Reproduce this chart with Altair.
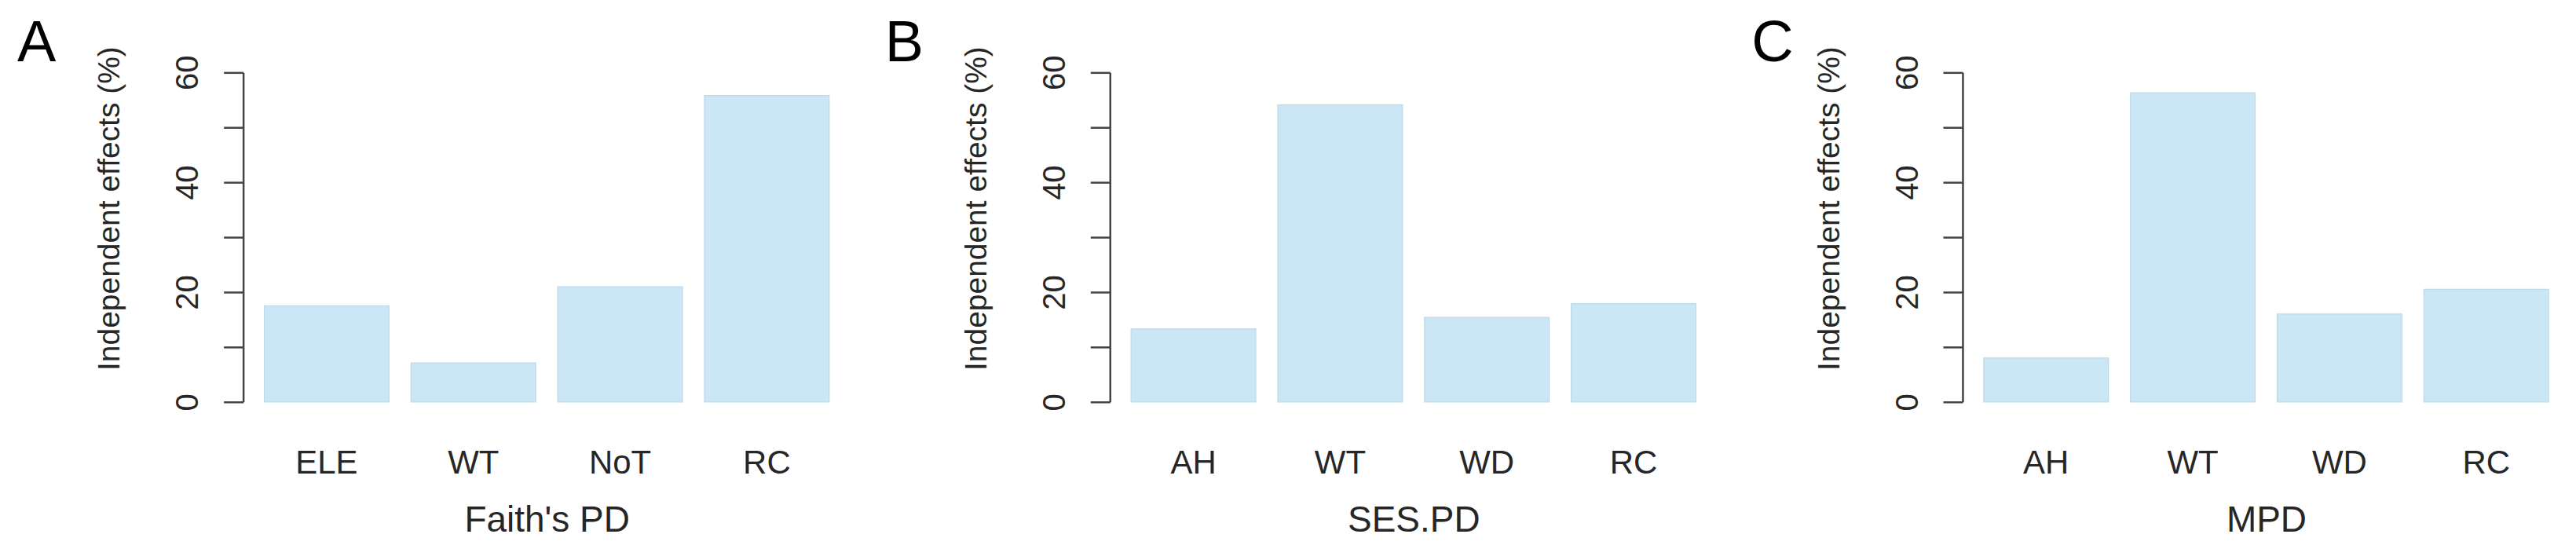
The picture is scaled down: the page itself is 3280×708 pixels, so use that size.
import altair as alt
import pandas as pd

# ---- data ----
letters = ["A", "B", "C"]
x_titles = ["Faith's PD", "SES.PD", "MPD"]
cats_a = ["ELE", "WT", "NoT", "RC"]
vals_a = [17.5, 7.1, 21.0, 55.8]
cats_b = ["AH", "WT", "WD", "RC"]
vals_b = [13.3, 54.1, 15.4, 17.9]
cats_c = ["AH", "WT", "WD", "RC"]
vals_c = [8.0, 56.3, 16.0, 20.5]
y_ticks = [0, 10, 20, 30, 40, 50, 60]
y_title = "Independent effects (%)"

FONT = "Liberation Sans"
BAR = "#cbe6f4"
AXC = "#444444"
TXT = "#262626"

W, H = 774, 420


def panel(cats, vals, letter, xtitle, letter_dx):
    df = pd.DataFrame({"cat": cats, "val": vals})
    bars = alt.Chart(df).mark_bar(color=BAR, stroke="#bdd9ea", strokeWidth=1.2).encode(
        x=alt.X(
            "cat:N",
            sort=cats,
            scale=alt.Scale(paddingInner=0.15, paddingOuter=0.144),
            axis=alt.Axis(
                title=xtitle,
                domain=False,
                ticks=False,
                tickSize=0,
                labelAngle=0,
                labelFont=FONT,
                labelFontSize=42,
                labelColor=TXT,
                labelBaseline="alphabetic",
                labelPadding=91,
                titleFont=FONT,
                titleFontSize=46,
                titleFontWeight="normal",
                titleColor=TXT,
                titleBaseline="alphabetic",
                titleY=165,
            ),
        ),
        y=alt.Y(
            "val:Q",
            scale=alt.Scale(domain=[0, 60], nice=False, zero=True),
            axis=alt.Axis(
                title=y_title,
                values=y_ticks,
                labelExpr="datum.value % 20 == 0 ? datum.label : ''",
                grid=False,
                domainColor=AXC,
                domainWidth=2.5,
                tickColor=AXC,
                tickWidth=2.5,
                tickSize=25,
                labelAngle=270,
                labelAlign="center",
                labelBaseline="alphabetic",
                labelPadding=33,
                labelFont=FONT,
                labelFontSize=40,
                labelColor=TXT,
                labelFlush=False,
                labelOverlap=False,
                titleFont=FONT,
                titleFontSize=39,
                titleFontWeight="normal",
                titleColor=TXT,
                titleAngle=270,
                titleAlign="center",
                titleBaseline="alphabetic",
                titleX=-158,
                titleY=173,
            ),
        ),
    )
    lab = alt.Chart(pd.DataFrame({"letter": [letter]})).mark_text(
        align="left", baseline="alphabetic", fontSize=74, font=FONT, color="#000000"
    ).encode(
        text="letter:N",
        x=alt.value(letter_dx),
        y=alt.value(-14.7),
    )
    return alt.layer(bars, lab).properties(width=W, height=H)


pa = panel(cats_a, vals_a, letters[0], x_titles[0], -288)
pb = panel(cats_b, vals_b, letters[1], x_titles[1], -287)
pc = panel(cats_c, vals_c, letters[2], x_titles[2], -269)

chart = alt.hconcat(pa, pb, pc, spacing=44).properties(
    padding={"left": 14, "top": 10, "right": 0, "bottom": 0},
    background="white",
).configure_view(strokeWidth=0)

chart.save("out.html", embed_options={"renderer": "svg", "actions": False})
